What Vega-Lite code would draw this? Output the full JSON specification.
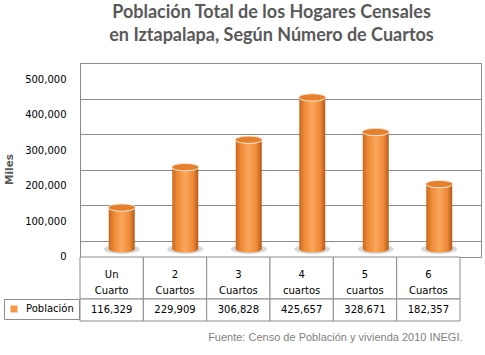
{
  "$schema": "https://vega.github.io/schema/vega-lite/v6.json",
  "padding": {"left": 3, "top": 3, "right": 3, "bottom": 4},
  "background": "white",
  "title": {
    "text": ["Población Total de los Hogares Censales", "en Iztapalapa, Según Número de Cuartos"],
    "font": "Lato", "fontSize": 18, "fontWeight": "bold", "color": "#595959",
    "lineHeight": 23, "anchor": "middle", "offset": 18, "dx": 29
  },
  "datasets": {
    "d": [
      {"cuartos": "Un\nCuarto", "poblacion": 116329, "serie": "Población"},
      {"cuartos": "2\nCuartos", "poblacion": 229909, "serie": "Población"},
      {"cuartos": "3\nCuartos", "poblacion": 306828, "serie": "Población"},
      {"cuartos": "4\ncuartos", "poblacion": 425657, "serie": "Población"},
      {"cuartos": "5\ncuartos", "poblacion": 328671, "serie": "Población"},
      {"cuartos": "6\nCuartos", "poblacion": 182357, "serie": "Población"}
    ]
  },
  "spacing": 0,
  "bounds": "flush",
  "vconcat": [
    {
      "width": 401,
      "height": 194,
      "view": {"stroke": "#8C8C8C"},
      "data": {"name": "d"},
      "encoding": {
        "x": {"field": "cuartos", "type": "nominal", "sort": null, "axis": null,
              "scale": {"paddingInner": 0.5906, "paddingOuter": 0.4528}}
      },
      "layer": [
        {
          "mark": {"type": "point", "shape": "M-1,0A1,0.27,0,1,1,1,0A1,0.27,0,1,1,-1,0Z", "size": 1296, "filled": true, "fill": "#7F7F7F", "opacity": 0.3, "strokeWidth": 0},
          "encoding": {"y": {"datum": 0, "type": "quantitative",
                  "scale": {"domain": [-22472, 522472], "nice": false, "zero": false},
                  "axis": {"values": [0, 100000, 200000, 300000, 400000, 500000], "title": "Miles"}}}
        },
        {
          "mark": {"type": "bar", "color": {"gradient": "linear", "x1": 0, "y1": 0, "x2": 1, "y2": 0,
            "stops": [{"offset": 0, "color": "#C8681F"}, {"offset": 0.2, "color": "#EE8A38"}, {"offset": 0.5, "color": "#FBA65A"}, {"offset": 0.8, "color": "#EE8A38"}, {"offset": 1, "color": "#B55A1A"}]}},
          "encoding": {
            "y": {"field": "poblacion", "type": "quantitative",
                  "axis": {"values": [0, 100000, 200000, 300000, 400000, 500000], "title": "Miles"}},
            "y2": {"datum": 0}
          }
        },
        {
          "mark": {"type": "point", "shape": "M-1,0A1,0.27,0,1,1,1,0A1,0.27,0,1,1,-1,0Z", "size": 676, "filled": true, "opacity": 1, "strokeWidth": 0,
            "fill": {"gradient": "linear", "x1": 0, "y1": 0, "x2": 1, "y2": 0,
            "stops": [{"offset": 0, "color": "#C8681F"}, {"offset": 0.2, "color": "#EE8A38"}, {"offset": 0.5, "color": "#FBA65A"}, {"offset": 0.8, "color": "#EE8A38"}, {"offset": 1, "color": "#B55A1A"}]}},
          "encoding": {"y": {"datum": 0, "type": "quantitative",
                  "axis": {"values": [0, 100000, 200000, 300000, 400000, 500000], "title": "Miles"}}}
        },
        {
          "mark": {"type": "point", "shape": "M-1,0A1,0.27,0,1,1,1,0A1,0.27,0,1,1,-1,0Z", "size": 729, "filled": true, "opacity": 1, "fill": "#E5802D", "stroke": "#FDEADA", "strokeWidth": 1},
          "encoding": {"y": {"field": "poblacion", "type": "quantitative",
                  "axis": {"values": [0, 100000, 200000, 300000, 400000, 500000], "title": "Miles"}}}
        }
      ]
    },
    {
      "width": 380,
      "height": 64,
      "data": {"name": "d"},
      "title": {"text": "Fuente: Censo de Población y vivienda 2010 INEGI.", "orient": "bottom", "anchor": "end",
                "font": "Liberation Sans", "fontSize": 11, "fontWeight": "normal", "color": "#7F7F7F", "offset": 10, "dx": 2},
      "encoding": {
        "x": {"field": "cuartos", "type": "nominal", "sort": null, "axis": null,
              "scale": {"paddingInner": 0, "paddingOuter": 0}}
      },
      "layer": [
        {
          "mark": {"type": "rect", "fill": "white", "stroke": "#8C8C8C", "strokeWidth": 1},
          "encoding": {
            "y": {"datum": 0, "type": "quantitative", "scale": {"domain": [0, 64], "reverse": true, "nice": false, "zero": false}, "axis": null},
            "y2": {"datum": 42}
          }
        },
        {
          "mark": {"type": "rect", "fill": "white", "stroke": "#8C8C8C", "strokeWidth": 1},
          "encoding": {
            "y": {"datum": 42, "type": "quantitative", "axis": null},
            "y2": {"datum": 64}
          }
        },
        {
          "mark": {"type": "text", "lineBreak": "\n", "lineHeight": 16, "fontSize": 10, "font": "DejaVu Sans", "color": "#000000", "baseline": "middle"},
          "encoding": {
            "y": {"datum": 18, "type": "quantitative", "axis": null},
            "text": {"field": "cuartos"}
          }
        },
        {
          "mark": {"type": "text", "fontSize": 10, "font": "DejaVu Sans", "color": "#000000", "baseline": "middle"},
          "encoding": {
            "y": {"datum": 53, "type": "quantitative", "axis": null},
            "text": {"field": "poblacion", "type": "quantitative", "format": ",d"}
          }
        },
        {
          "mark": {"type": "text", "text": ""},
          "encoding": {
            "y": {"datum": 53, "type": "quantitative", "axis": null},
            "color": {"field": "serie", "type": "nominal", "scale": {"range": ["#F79646"]},
                      "legend": {"orient": "none", "legendX": -76, "legendY": 236, "title": null,
                                 "symbolType": "square", "symbolSize": 49, "symbolStrokeWidth": 0,
                                 "labelFont": "DejaVu Sans", "labelFontSize": 10, "labelColor": "#000000",
                                 "labelOffset": 7, "padding": 5, "strokeColor": "#8C8C8C"}}
          }
        }
      ]
    }
  ],
  "config": {
    "view": {"stroke": null},
    "axisY": {"format": ",d", "grid": true, "gridColor": "#8C8C8C", "gridOpacity": 1, "ticks": false, "domain": false,
              "tickOffset": -8, "labelOffset": 16, "labelPadding": 14, "labelOverlap": false,
              "labelFont": "DejaVu Sans", "labelFontSize": 10, "labelColor": "#000000",
              "titleFont": "DejaVu Sans", "titleFontSize": 10.5, "titleFontWeight": "bold",
              "titleColor": "#595959", "titlePadding": 10, "titleY": 106}
  }
}
